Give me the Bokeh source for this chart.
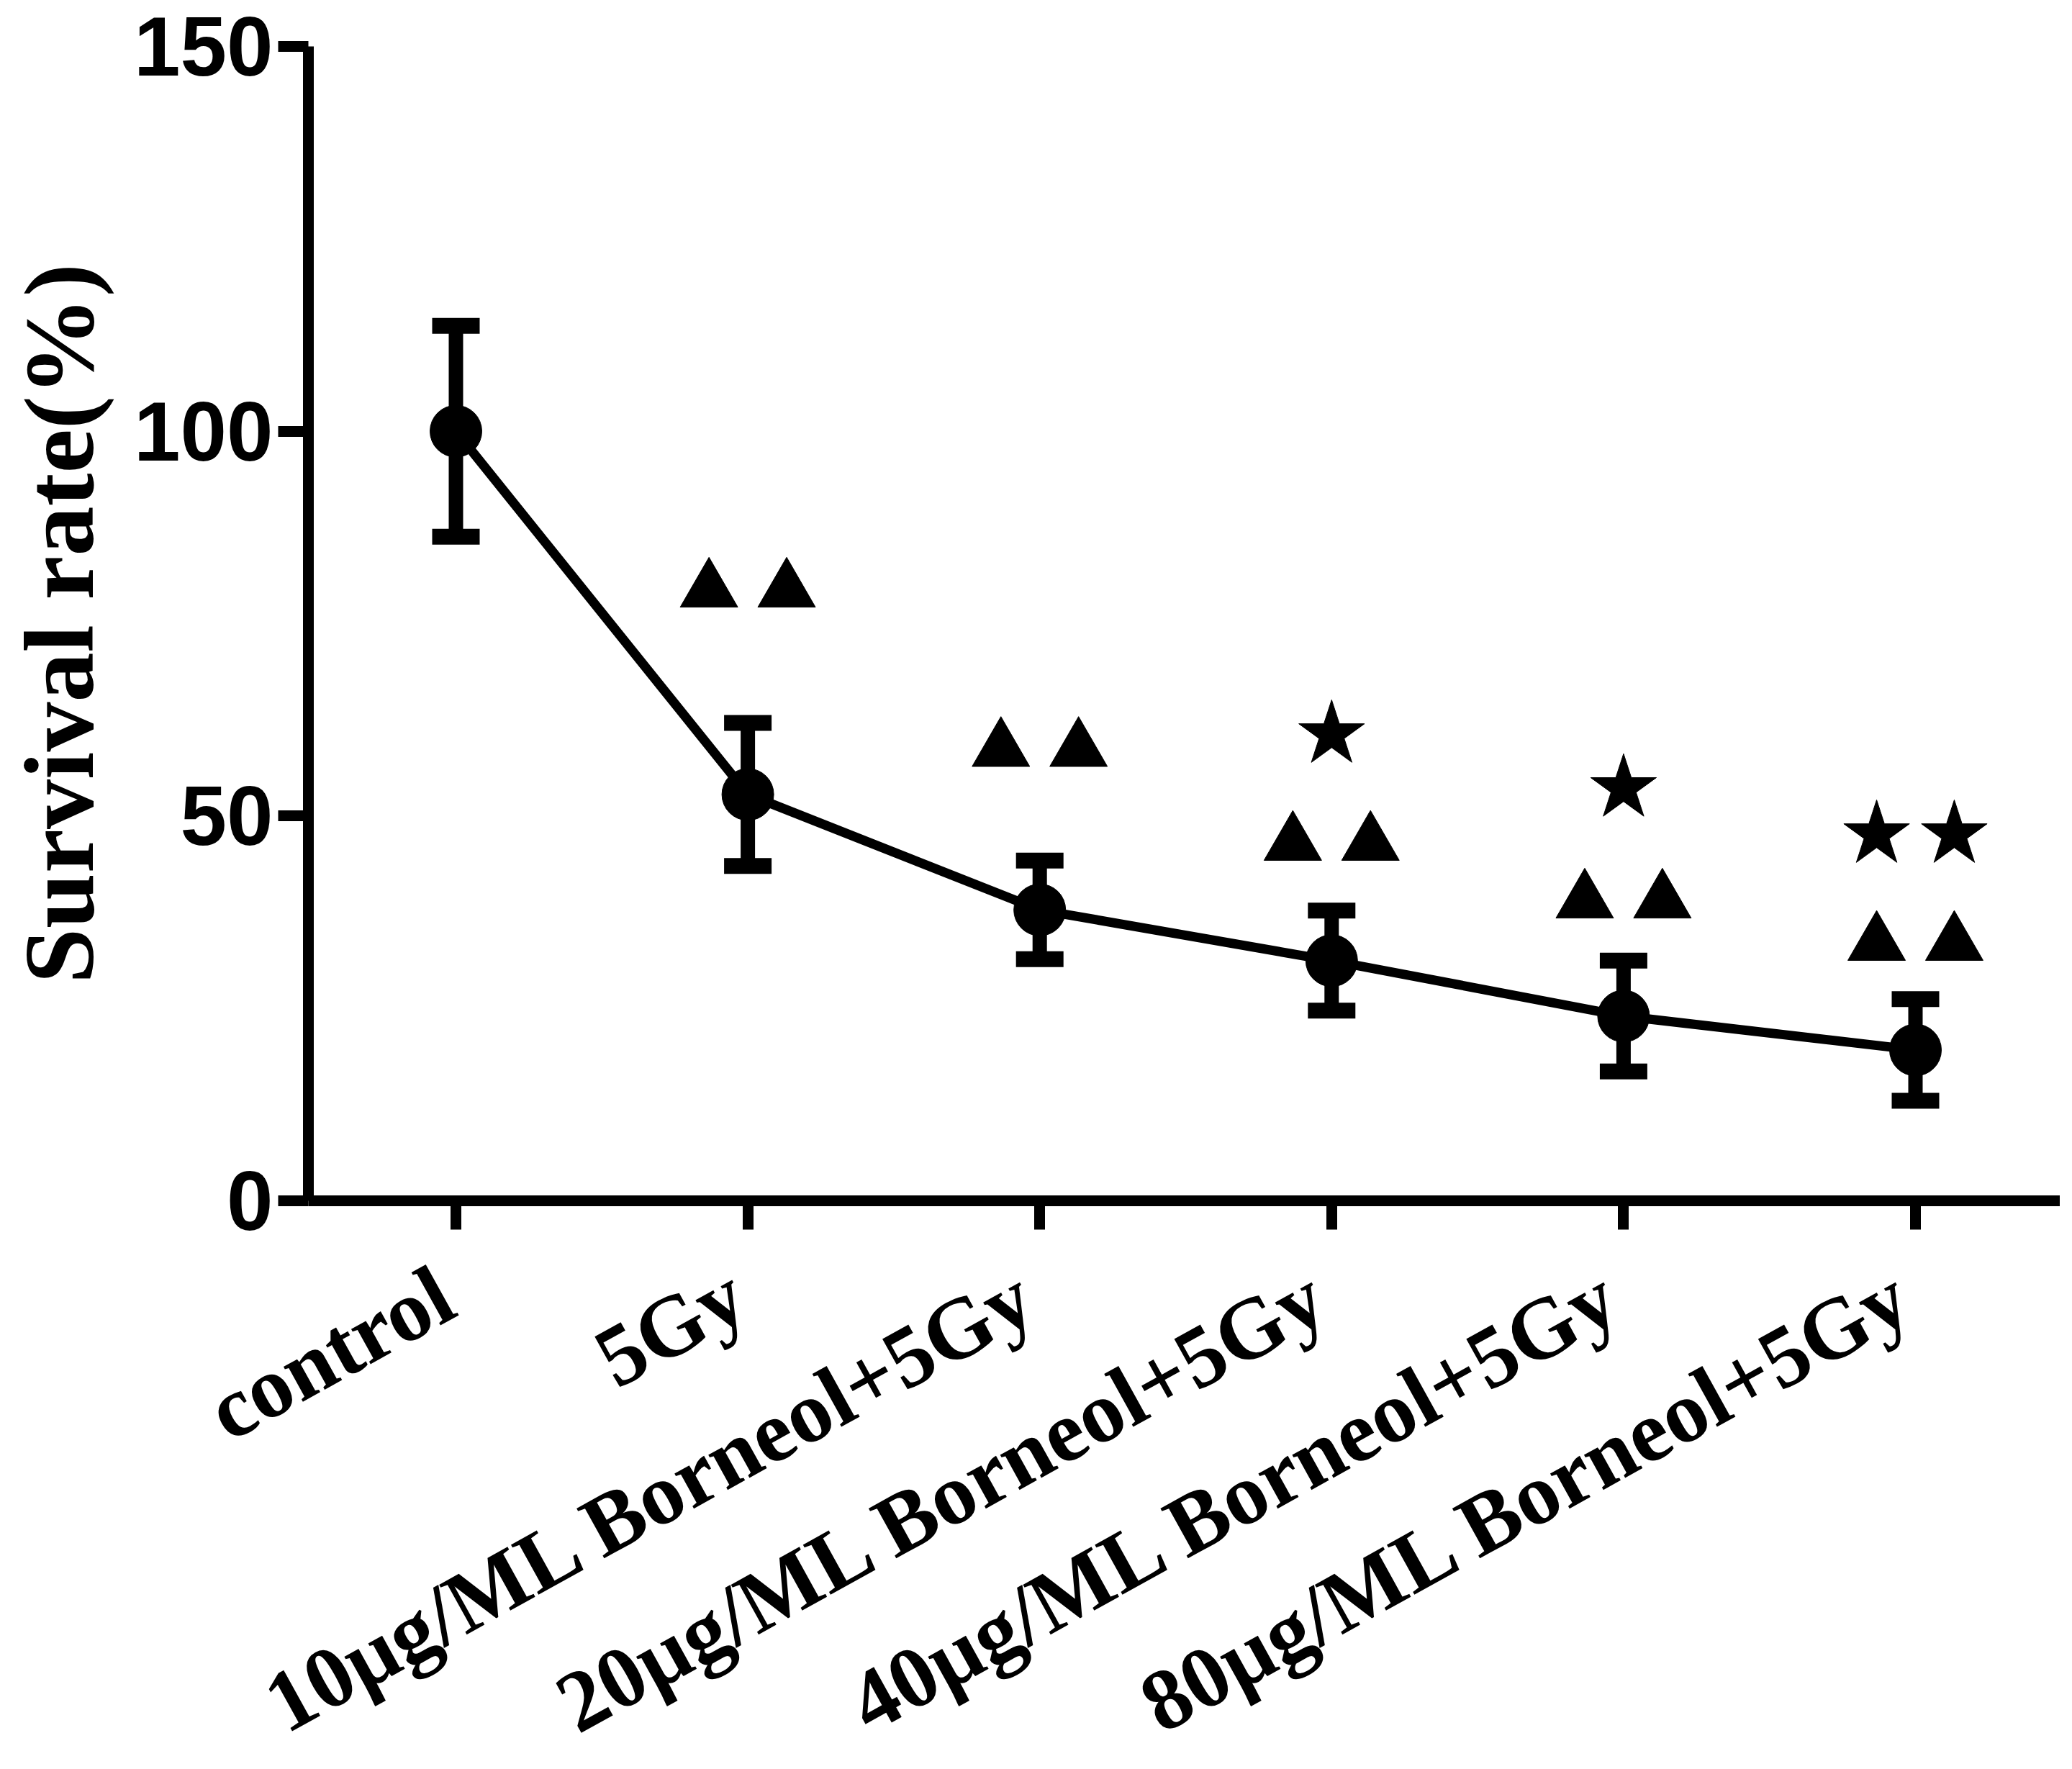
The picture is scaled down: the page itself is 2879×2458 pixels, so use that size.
import math
from bokeh.plotting import figure
from bokeh.models import (FixedTicker, Whisker, TeeHead, ColumnDataSource, Range1d,
                          LabelSet, Label)
from bokeh.embed import file_html
from bokeh.resources import INLINE

# ---------------- data ----------------
categories = ["control", "5Gy", "10µg/ML Borneol+5Gy", "20µg/ML Borneol+5Gy",
              "40µg/ML Borneol+5Gy", "80µg/ML Borneol+5Gy"]
survival = [100.0, 52.8, 37.8, 31.2, 24.0, 19.6]
sem = [13.7, 9.3, 6.4, 6.5, 7.2, 6.6]
y_ticks = [0, 50, 100, 150]
y_title = "Survival rate(%)"

# significance marks (▲▲ vs control, ★ vs 5Gy)
tri_groups = ["5Gy", "10µg/ML Borneol+5Gy", "20µg/ML Borneol+5Gy",
              "40µg/ML Borneol+5Gy", "80µg/ML Borneol+5Gy"]
tri_level = [79.3, 58.6, 46.4, 38.9, 33.4]
tri_count = [2, 2, 2, 2, 2]
star_groups = ["20µg/ML Borneol+5Gy", "40µg/ML Borneol+5Gy", "80µg/ML Borneol+5Gy"]
star_level = [60.6, 53.6, 47.6]
star_count = [1, 1, 2]

# ---------------- layout constants (pixels inside the figure) ----------------
W, H = 2862, 2442
AXIS_PX = 428        # vertical axis line
CAT0_PX = 633        # first category
CAT_STEP = 405.6     # distance between categories
TOP_PX = 64          # y = 150
ZERO_PX = 1668       # y = 0
TITLE_PX = 82        # baseline of the rotated y title

ux = 1.0 / CAT_STEP                                   # x data units per pixel
uy = (y_ticks[-1] - y_ticks[0]) / (ZERO_PX - TOP_PX)  # y data units per pixel
X_LEFT = -CAT0_PX * ux
X_RIGHT = (W - CAT0_PX) * ux
X_AXIS = (AXIS_PX - CAT0_PX) * ux
Y_TOP = y_ticks[-1] + TOP_PX * uy
Y_BOTTOM = y_ticks[0] - (H - ZERO_PX) * uy

# ---------------- build ----------------
xs = list(range(len(categories)))
src = ColumnDataSource(dict(
    x=xs, y=survival,
    upper=[m + e for m, e in zip(survival, sem)],
    lower=[m - e for m, e in zip(survival, sem)],
))

PAIR = 0.133


def spread(groups, levels, counts):
    px, py = [], []
    for g, lv, c in zip(groups, levels, counts):
        base = categories.index(g)
        offs = [0.0] if c == 1 else [-PAIR, PAIR]
        for o in offs:
            px.append(base + o)
            py.append(lv)
    return px, py


tri_x, tri_y = spread(tri_groups, tri_level, tri_count)
star_x, star_y = spread(star_groups, star_level, star_count)

p = figure(width=W, height=H, output_backend="svg", toolbar_location=None,
           x_range=Range1d(X_LEFT, X_RIGHT), y_range=Range1d(Y_BOTTOM, Y_TOP),
           x_axis_location="above", min_border=0)
p.outline_line_color = None
p.grid.visible = False
p.background_fill_color = "white"
p.border_fill_color = "white"

# error bars
wh = Whisker(base="x", upper="upper", lower="lower", source=src, dimension="height",
             line_width=20, line_color="black",
             upper_head=TeeHead(size=66, line_width=22, line_color="black"),
             lower_head=TeeHead(size=66, line_width=22, line_color="black"))
p.add_layout(wh)

p.line("x", "y", source=src, line_width=13, line_color="black")
p.scatter("x", "y", source=src, size=72, marker="circle", fill_color="black",
          line_color="black")

p.scatter(tri_x, tri_y, marker="triangle", size=80, fill_color="black", line_color="black")
p.scatter(star_x, star_y, marker="star", size=96, fill_color="black", line_color="black")

# y axis: line from 0 to 150 at the left edge of the data area
ya = p.yaxis[0]
ya.fixed_location = X_AXIS
ya.ticker = FixedTicker(ticks=y_ticks)
ya.bounds = (y_ticks[0], y_ticks[-1])
ya.major_label_text_font = "Liberation Sans"
ya.major_label_text_font_style = "bold"
ya.major_label_text_font_size = "116px"
ya.major_label_text_color = "black"
ya.major_label_standoff = 7
ya.axis_line_width = 15
ya.axis_line_color = "black"
ya.major_tick_line_width = 15
ya.major_tick_line_color = "black"
ya.major_tick_out = 42
ya.major_tick_in = 0
ya.minor_tick_line_color = None

# x axis: line at y = 0, ticks pointing down
xa = p.xaxis[0]
xa.fixed_location = y_ticks[0]
xa.bounds = (X_AXIS, X_RIGHT)
xa.ticker = FixedTicker(ticks=xs)
xa.major_label_overrides = {i: "" for i in xs}
xa.major_label_text_font_size = "1px"
xa.major_label_standoff = 0
xa.axis_line_width = 15
xa.axis_line_color = "black"
xa.major_tick_line_width = 15
xa.major_tick_line_color = "black"
xa.major_tick_out = 0
xa.major_tick_in = 40
xa.minor_tick_line_color = None

# slanted category names under the ticks, placed on the same x scale
lab_src = ColumnDataSource(dict(x=xs, y=[y_ticks[0]] * len(xs), text=categories))
labels = LabelSet(x="x", y="y", text="text", source=lab_src,
                  angle=math.radians(29), x_offset=6, y_offset=-158,
                  text_align="right", text_baseline="alphabetic",
                  text_font="Liberation Serif", text_font_style="bold",
                  text_font_size="121px", text_color="black")
p.add_layout(labels)

# y title
title = Label(x=X_LEFT + TITLE_PX * ux, y=(y_ticks[0] + y_ticks[-1]) / 2, text=y_title,
              angle=math.pi / 2, text_align="center", text_baseline="alphabetic",
              text_font="Liberation Serif", text_font_style="bold",
              text_font_size="138px", text_color="black")
p.add_layout(title)

open("out.html", "w").write(file_html(p, INLINE))
